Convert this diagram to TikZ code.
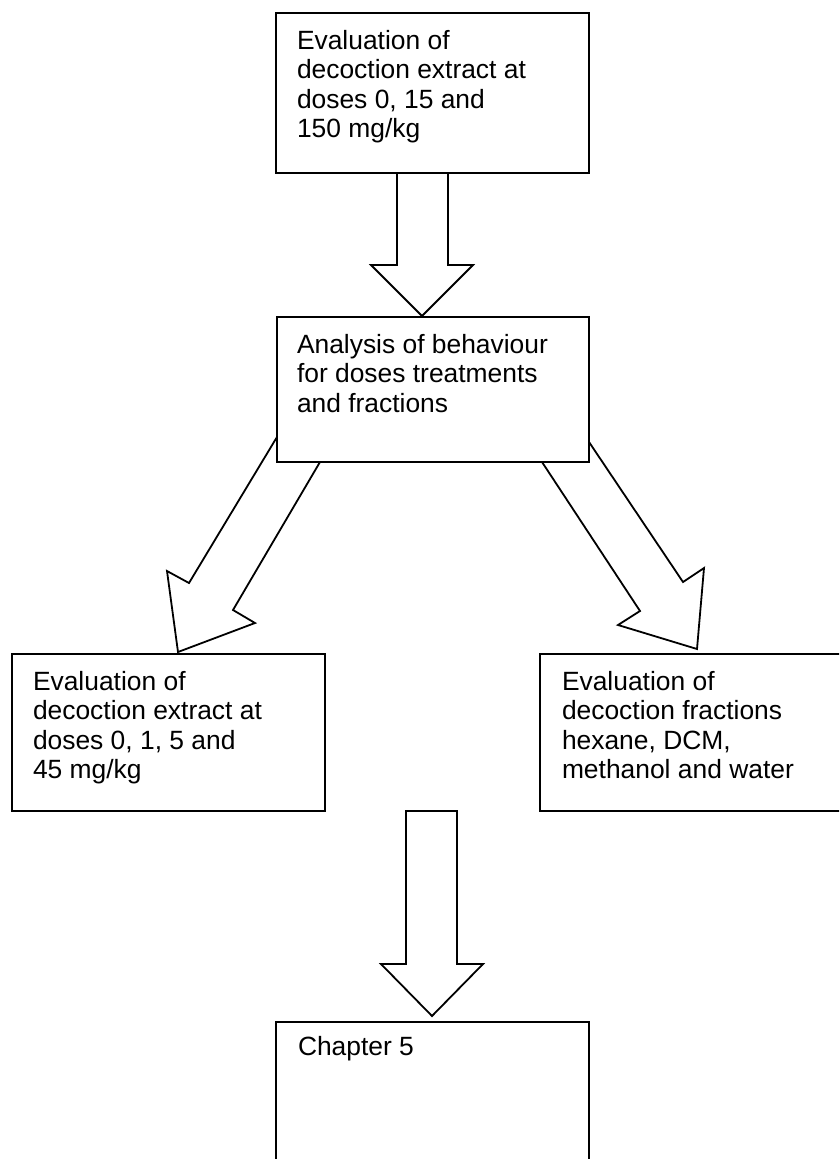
\documentclass[tikz,border=0pt]{standalone}
\usepackage{fontspec}
\setmainfont{Liberation Sans}
\usetikzlibrary{calc}

\tikzset{
  box/.style={draw=black, line width=1.8pt, anchor=north west,
    minimum width=313pt, minimum height=157pt, inner sep=0pt, outer sep=0pt},
  boxtext/.style={anchor=north west, inner sep=0pt, outer sep=0pt, align=left,
    font=\fontsize{26.4}{29.6}\selectfont},
  blockarrow/.style={draw=black, line width=1.8pt, line join=miter},
}

\begin{document}
\begin{tikzpicture}[x=1pt, y=-1pt]
  % page frame
  \fill[white] (0,0) rectangle (839,1159);
  \clip (0,0) rectangle (839,1159);

  % boxes
  \node[box, minimum height=160pt] (b1) at (276,13) {};
  \node[box, minimum width=312pt, minimum height=145pt] (b2) at (277,317) {};
  \node[box] (b3) at (12,654) {};
  \node[box] (b4) at (540,654) {};
  \node[box, minimum height=190pt] (b5) at (276,1022) {};

  % box texts
  \node[boxtext] (t1) at ($(b1.north west)+(21,15.3)$)
    {\strut Evaluation of\\decoction extract at\\doses 0, 15 and\\150 mg/kg};
  \node[boxtext] (t2) at ($(b2.north west)+(20,15.3)$)
    {\strut Analysis of behaviour\\for doses treatments\\and fractions};
  \node[boxtext] (t3) at ($(b3.north west)+(21,15.3)$)
    {\strut Evaluation of\\decoction extract at\\doses 0, 1, 5 and\\45 mg/kg};
  \node[boxtext] (t4) at ($(b4.north west)+(22,15.3)$)
    {\strut Evaluation of\\decoction fractions\\hexane, DCM,\\methanol and water};
  \node[boxtext] (t5) at ($(b5.north west)+(22,12.3)$)
    {\strut Chapter 5};

  % block arrow: first box to analysis box
  \draw[blockarrow] ($(b1.south west)+(121,0)$) -- (397,265) -- (371,265)
    -- ($(b2.north west)+(145,-1)$) -- (473,265) -- (448,265)
    -- ($(b1.south west)+(172,0)$);

  % block arrow: analysis box to dose evaluation box
  \draw[blockarrow] ($(b2.north west)+(0,120)$) -- (189,583) -- (167,571)
    -- ($(b3.north west)+(166,-2)$) -- (255,623) -- (233,610)
    -- ($(b2.south west)+(43,0)$);

  % block arrow: analysis box to fraction evaluation box
  \draw[blockarrow] ($(b2.north east)+(0,125)$) -- (683,582) -- (704,568)
    -- ($(b4.north west)+(157,-5)$) -- (618,625) -- (640,611)
    -- ($(b2.south east)+(-47,0)$);

  % block arrow down to chapter box
  \coordinate (a3top) at (406,811);
  \draw[blockarrow] (a3top) -- (406,964) -- (381,964)
    -- ($(b5.north west)+(156,-6)$) -- (483,964) -- (457,964)
    -- (457,811) -- cycle;
\end{tikzpicture}
\end{document}
